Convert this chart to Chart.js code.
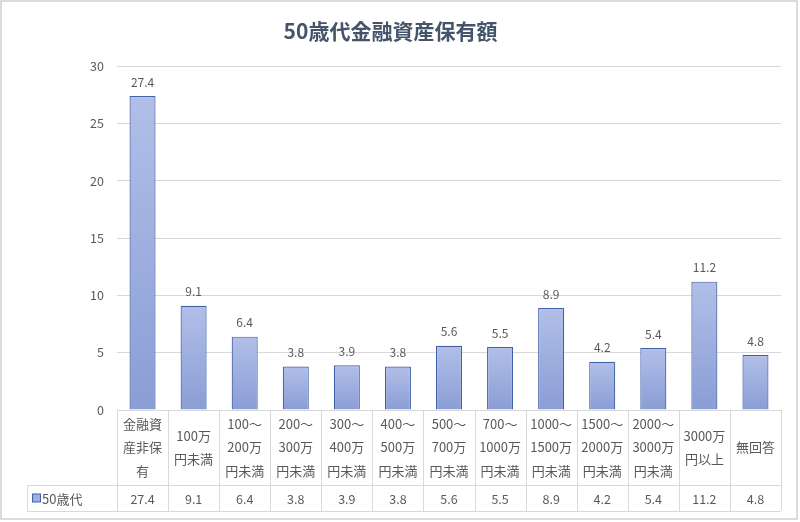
<!DOCTYPE html>
<html>
<head>
<meta charset="utf-8">
<script src="https://cdn.jsdelivr.net/npm/chart.js@4/dist/chart.umd.min.js"></script>
<style>
  html, body { margin: 0; padding: 0; background: #fff; }
  #wrap { width: 800px; height: 522px; }
</style>
</head>
<body>
<div id="wrap"><canvas id="chart" width="800" height="522"></canvas></div>
<script>
// --- data ---
const seriesName = "50歳代";
const categories = [
    ["金融資", "産非保", "有"],
    ["100万", "円未満"],
    ["100～", "200万", "円未満"],
    ["200～", "300万", "円未満"],
    ["300～", "400万", "円未満"],
    ["400～", "500万", "円未満"],
    ["500～", "700万", "円未満"],
    ["700～", "1000万", "円未満"],
    ["1000～", "1500万", "円未満"],
    ["1500～", "2000万", "円未満"],
    ["2000～", "3000万", "円未満"],
    ["3000万", "円以上"],
    ["無回答"]
];
const values = [27.4, 9.1, 6.4, 3.8, 3.9, 3.8, 5.6, 5.5, 8.9, 4.2, 5.4, 11.2, 4.8];
const yTicks = [0, 5, 10, 15, 20, 25, 30];

const FONT = "'Noto Sans CJK JP', 'Noto Sans', sans-serif";
const TEXT = "#595959";
const LINE = "#d9d9d9";

// per-bar gradient (lighter on top, like the Excel fill)
function barFill(ctx) {
    const chart = ctx.chart;
    if (!chart.chartArea || ctx.type !== "data") return "#9fb0e0";
    const y = chart.scales.y;
    const top = y.getPixelForValue(ctx.raw);
    const base = y.getPixelForValue(0);
    const g = chart.ctx.createLinearGradient(0, top, 0, base);
    g.addColorStop(0, "#b1bfe8");
    g.addColorStop(1, "#8a9dd5");
    return g;
}

// value labels above bars
const valueLabels = {
    id: "valueLabels",
    afterDatasetsDraw(chart) {
        const c = chart.ctx;
        const meta = chart.getDatasetMeta(0);
        c.save();
        c.font = "12px " + FONT;
        c.fillStyle = TEXT;
        c.textAlign = "center";
        c.textBaseline = "middle";
        meta.data.forEach((bar, i) => {
            c.fillText(values[i].toFixed(1), bar.x, bar.y - 14);
        });
        c.restore();
    }
};

// data table under the plot + outer border
const dataTable = {
    id: "dataTable",
    afterDraw(chart) {
        const c = chart.ctx;
        const xs = chart.scales.x;
        const top = chart.chartArea.bottom;
        const mid = top + 75;
        const bot = top + 101;
        const left = 27;
        const cw = (xs.right - xs.left) / categories.length;

        c.save();
        c.strokeStyle = LINE;
        c.lineWidth = 1;
        c.beginPath();
        // horizontal lines
        c.moveTo(left, mid + 0.5); c.lineTo(xs.right, mid + 0.5);
        c.moveTo(left, bot + 0.5); c.lineTo(xs.right, bot + 0.5);
        // vertical lines
        c.moveTo(left + 0.5, mid); c.lineTo(left + 0.5, bot);
        for (let i = 0; i <= categories.length; i++) {
            const x = Math.round(xs.left + i * cw) + 0.5;
            c.moveTo(x, top); c.lineTo(x, bot);
        }
        c.stroke();

        c.fillStyle = TEXT;
        c.textAlign = "center";
        c.textBaseline = "middle";
        const lh = 23.5;
        categories.forEach((lines, i) => {
            const cx = xs.getPixelForValue(i);
            const cy = (top + mid) / 2;
            c.font = "13px " + FONT;
            lines.forEach((t, k) => {
                c.fillText(t, cx, cy + (k - (lines.length - 1) / 2) * lh);
            });
            c.font = "12.5px " + FONT;
            c.fillText(values[i].toFixed(1), cx, (mid + bot) / 2 + 1);
        });

        // legend key
        const ky = (mid + bot) / 2 - 4;
        c.fillStyle = "#9fb0e0";
        c.strokeStyle = "#4060a8";
        c.fillRect(32.5, ky, 8, 8);
        c.strokeRect(32.5, ky, 8, 8);
        c.fillStyle = TEXT;
        c.textAlign = "left";
        c.font = "13px " + FONT;
        c.fillText(seriesName, 42, (mid + bot) / 2 + 1);

        // chart border
        c.strokeStyle = "#d0d0d0";
        c.lineWidth = 1.5;
        c.strokeRect(1, 1, 796, 518);
        c.restore();
    }
};

const ctx = document.getElementById("chart").getContext("2d");
new Chart(ctx, {
    type: "bar",
    data: {
        labels: categories.map(l => l.join("")),
        datasets: [{
            label: seriesName,
            data: values,
            backgroundColor: barFill,
            borderColor: "#4060a8",
            borderWidth: 1.2,
            barPercentage: 0.51,
            categoryPercentage: 1
        }]
    },
    options: {
        responsive: false,
        animation: false,
        layout: { padding: { left: 0, right: 19, top: 0, bottom: 104 } },
        plugins: {
            legend: { display: false },
            tooltip: { enabled: false },
            title: {
                display: true,
                text: "50歳代金融資産保有額",
                color: "#44546a",
                font: { family: FONT, size: 21, weight: "bold" },
                padding: { top: 18, bottom: 23 }
            }
        },
        scales: {
            x: {
                ticks: { display: false },
                grid: { display: false },
                border: { display: false }
            },
            y: {
                min: 0,
                max: 30,
                afterBuildTicks: axis => { axis.ticks = yTicks.map(v => ({ value: v })); },
                afterFit: axis => { axis.width = 117; },
                ticks: {
                    color: TEXT,
                    font: { family: FONT, size: 12.5 },
                    padding: 13
                },
                grid: { color: LINE, drawTicks: false },
                border: { display: false }
            }
        }
    },
    plugins: [valueLabels, dataTable]
});
</script>
</body>
</html>
